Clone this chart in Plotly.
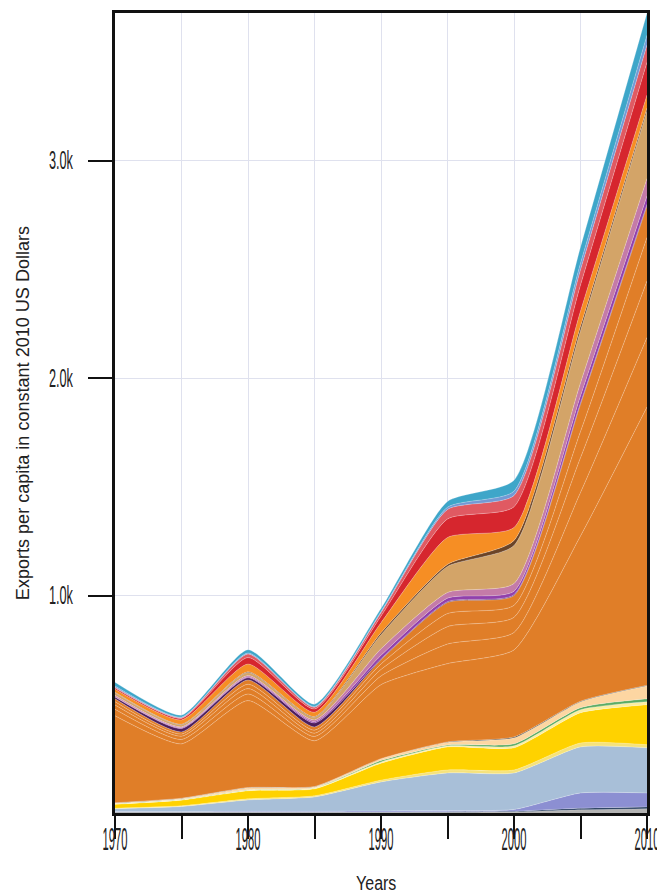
import plotly.graph_objects as go

years = [1970, 1975, 1980, 1985, 1990, 1995, 2000, 2005, 2010]

# stacked layers, bottom to top (values in constant 2010 US$ per capita)
grey = [3, 3, 3, 3, 3, 4, 5, 15, 20]
navy = [2, 2, 2, 2, 2, 2, 3, 7, 8]
violet = [2, 2, 3, 3, 4, 5, 8, 70, 64]
steel_blue = [13, 23, 52, 66, 134, 173, 168, 212, 208]
light_yellow1 = [2, 3, 5, 5, 8, 14, 14, 18, 14]
yellow = [18, 26, 37, 32, 78, 106, 102, 139, 184]
light_yellow2 = [2, 3, 4, 4, 6, 5, 9, 14, 14]
green = [1, 1, 1, 1, 6, 4, 9, 9, 13]
beige = [3, 4, 9, 5, 8, 12, 28, 28, 60]
black = [1, 1, 1, 1, 1, 2, 4, 2, 2]
orange1 = [400, 250, 400, 210, 340, 360, 400, 760, 1280]
orange2 = [30, 20, 30, 20, 40, 90, 80, 200, 320]
orange3 = [20, 15, 25, 15, 30, 80, 70, 160, 260]
orange4 = [15, 10, 20, 14, 25, 60, 55, 120, 200]
orange5 = [13, 10, 20, 15, 20, 51, 45, 126, 146]
dark_purple = [8, 15, 10, 18, 4, 4, 4, 6, 6]
purple = [2, 4, 4, 6, 16, 16, 16, 32, 39]
pink = [6, 4, 6, 8, 30, 26, 35, 60, 80]
tan = [12, 10, 14, 12, 65, 120, 175, 240, 310]
brown = [2, 2, 3, 3, 9, 9, 23, 20, 14]
light_orange = [14, 20, 36, 20, 46, 124, 60, 70, 60]
red = [6, 7, 30, 15, 30, 85, 95, 120, 150]
pink_red = [3, 3, 16, 8, 16, 44, 52, 70, 80]
periwinkle = [6, 3, 5, 4, 5, 10, 20, 30, 45]
cyan = [17, 9, 15, 10, 14, 27, 50, 75, 102]

x_tick_values = [1970, 1980, 1990, 2000, 2010]
x_tick_labels = ["1970", "1980", "1990", "2000", "2010"]
y_tick_values = [1000, 2000, 3000]
y_tick_labels = ["1.0k", "2.0k", "3.0k"]
x_title = "Years"
y_title = "Exports per capita in constant 2010 US Dollars"

layers = [
    ("Grey", grey, "#b4b4b4"),
    ("Navy", navy, "#1d3557"),
    ("Violet", violet, "#8c8fd2"),
    ("Steel blue", steel_blue, "#a8bfd8"),
    ("Light yellow", light_yellow1, "#f5e27c"),
    ("Yellow", yellow, "#ffd200"),
    ("Pale yellow", light_yellow2, "#fbeea0"),
    ("Green", green, "#5aab62"),
    ("Beige", beige, "#fdd6a2"),
    ("Black", black, "#2a2a2a"),
    ("Orange 1", orange1, "#e07e28"),
    ("Orange 2", orange2, "#e07e28"),
    ("Orange 3", orange3, "#e07e28"),
    ("Orange 4", orange4, "#e07e28"),
    ("Orange 5", orange5, "#e07e28"),
    ("Dark purple", dark_purple, "#4e1f5c"),
    ("Purple", purple, "#9140ac"),
    ("Pink", pink, "#c47ba8"),
    ("Tan", tan, "#d3a468"),
    ("Brown", brown, "#6b4427"),
    ("Light orange", light_orange, "#f68e24"),
    ("Red", red, "#d6262e"),
    ("Pink red", pink_red, "#e05a62"),
    ("Periwinkle", periwinkle, "#7399d4"),
    ("Cyan", cyan, "#3ea6c9"),
]

fig = go.Figure()
for name, vals, col in layers:
    fig.add_trace(go.Scatter(
        x=years, y=vals, name=name, mode="lines",
        stackgroup="one", fillcolor=col,
        line=dict(color="rgba(255,255,255,0.35)", width=0.7, shape="spline", smoothing=0.55),
        hoverinfo="x+y+name",
    ))

total_2010 = sum(v[-1] for _, v, _ in layers)

font_family = "Liberation Sans, Arial, sans-serif"

fig.update_layout(
    width=657, height=895,
    margin=dict(l=115, r=10, t=13, b=82, autoexpand=False),
    paper_bgcolor="white", plot_bgcolor="white",
    showlegend=False,
    font=dict(family=font_family, color="#222", size=18),
    xaxis=dict(
        range=[1970, 2010],
        tickvals=x_tick_values,
        ticktext=x_tick_labels,
        ticks="", ticklabelstandoff=-4, ticklabeloverflow="allow",
        showgrid=True, gridcolor="#dfe1ee", gridwidth=1,
        minor=dict(dtick=5, tick0=1970, ticks="outside", ticklen=23, tickwidth=2,
                   tickcolor="#111", showgrid=True, gridcolor="#dfe1ee", gridwidth=1),
        showline=True, linecolor="#111", linewidth=3, mirror=True,
        zeroline=False, automargin=False,
        tickfont=dict(size=32),
    ),
    yaxis=dict(
        range=[0, total_2010],
        tickvals=y_tick_values,
        ticktext=y_tick_labels,
        ticks="outside", ticklen=24, tickwidth=2, tickcolor="#111",
        ticklabelstandoff=10,
        showgrid=True, gridcolor="#dfe1ee", gridwidth=1,
        showline=True, linecolor="#111", linewidth=3, mirror=True,
        zeroline=False, automargin=False,
        tickfont=dict(size=25),
    ),
    annotations=[
        dict(text=x_title, xref="paper", yref="paper", x=0.49, y=0,
             xanchor="center", yanchor="middle", yshift=-70, showarrow=False,
             font=dict(size=20, color="#222")),
        dict(text=y_title, xref="paper", yref="paper", x=0, y=0.5,
             xanchor="center", yanchor="middle", xshift=-93, textangle=-90,
             showarrow=False, font=dict(size=19, color="#222")),
    ],
)

post = """
document.body.style.margin = '0';
document.body.style.padding = '0';
function squeeze(el, f) {
  var w = el.getComputedTextLength();
  el.setAttribute('textLength', (w * f).toFixed(1));
  el.setAttribute('lengthAdjust', 'spacingAndGlyphs');
}
document.querySelectorAll('g.xtick text').forEach(function (t) { squeeze(t, 0.35); });
document.querySelectorAll('g.ytick text').forEach(function (t) { squeeze(t, 0.51); });
document.querySelectorAll('text.annotation-text').forEach(function (t) {
  if (t.textContent === 'Years') { squeeze(t, 0.8); } else { squeeze(t, 0.95); }
});
"""

fig.write_html("out.html", post_script=post, config={"displayModeBar": False})
